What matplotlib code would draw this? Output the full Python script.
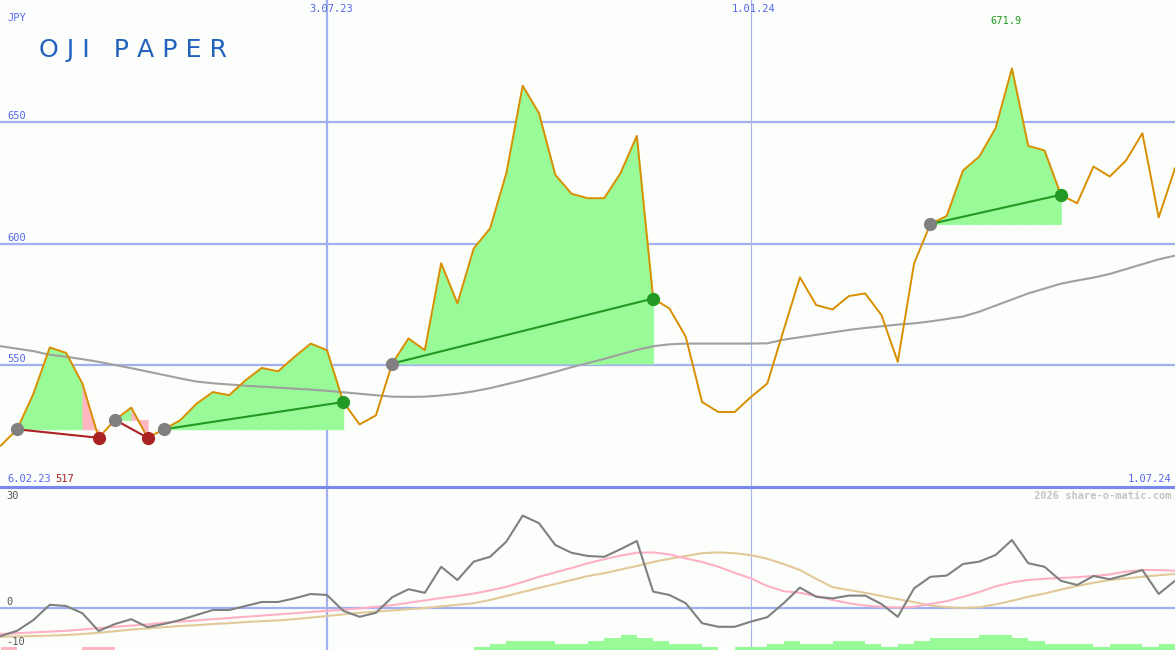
import numpy as np
import pandas as pd
import matplotlib
matplotlib.use("Agg")
import matplotlib.pyplot as plt
from matplotlib.lines import Line2D

# weekly closes, OJI Paper (JPY)
dates = pd.date_range("2023-02-13", periods=73, freq="7D")

price = [517.0, 523.7, 538.3, 557.3, 555.1, 542.5, 520.2, 527.6, 532.6, 520.2,
         523.7, 527.4, 534.2, 539.0, 537.7, 543.8, 548.9, 547.5, 553.4, 558.9,
         556.2, 534.9, 525.7, 529.4, 550.7, 561.0, 556.2, 591.9, 575.4, 598.0,
         606.2, 628.9, 664.8, 653.5, 628.2, 620.4, 618.6, 618.6, 628.9, 644.2,
         577.4, 573.3, 561.7, 534.9, 530.8, 530.8, 537.0, 542.5, 564.4, 586.1,
         574.7, 572.9, 578.4, 579.5, 570.6, 551.4, 591.8, 608.0, 611.3, 630.0,
         635.7, 647.4, 671.9, 640.1, 638.2, 620.0, 616.5, 631.6, 627.5, 634.1,
         645.3, 610.7, 630.9]

avg_line = [557.8, 556.8, 555.8, 554.3, 553.5, 552.5, 551.4, 550.1, 548.8, 547.4,
            546.0, 544.6, 543.3, 542.6, 542.1, 541.6, 541.2, 540.8, 540.4, 540.0,
            539.5, 538.9, 538.3, 537.7, 537.1, 537.0, 537.1, 537.6, 538.3, 539.3,
            540.6, 542.2, 543.8, 545.5, 547.3, 549.2, 550.9, 552.6, 554.5, 556.3,
            557.8, 558.6, 558.9, 558.9, 558.9, 558.9, 558.9, 559.0, 560.5, 561.5,
            562.5, 563.5, 564.5, 565.3, 566.0, 566.7, 567.2, 568.0, 569.0, 570.0,
            572.0, 574.5, 577.0, 579.5, 581.5, 583.5, 584.8, 586.0, 587.5, 589.5,
            591.5, 593.5, 595.0]

# entry / exit week index of each signal
trades = [(1, 6), (7, 9), (10, 21), (24, 40), (57, 65)]

# lower panel
osc = [-7.0, -5.7, -3.0, 0.8, 0.5, -1.3, -5.75, -4.0, -2.8, -4.8,
       -4.0, -3.0, -1.75, -0.5, -0.5, 0.5, 1.5, 1.5, 2.4, 3.5,
       3.25, -0.7, -2.2, -1.2, 2.7, 4.7, 3.8, 10.3, 7.0, 11.6,
       12.8, 16.6, 23.1, 21.2, 15.75, 13.8, 13.0, 12.8, 14.7, 16.75,
       4.1, 3.25, 1.2, -3.8, -4.7, -4.7, -3.4, -2.3, 1.2, 5.1,
       2.8, 2.4, 3.1, 3.1, 1.0, -2.2, 4.9, 7.8, 8.1, 11.0,
       11.6, 13.25, 17.0, 11.2, 10.3, 6.8, 5.75, 8.0, 7.2, 8.25,
       9.5, 3.5, 6.8]

osc_pink = [-6.5, -6.3, -6.1, -5.9, -5.7, -5.4, -5.0, -4.7, -4.4, -4.1,
            -3.7, -3.4, -3.1, -2.8, -2.5, -2.2, -1.9, -1.6, -1.3, -1.0,
            -0.7, -0.4, -0.1, 0.3, 0.7, 1.3, 1.9, 2.5, 3.0, 3.6,
            4.4, 5.3, 6.5, 7.8, 8.9, 10.0, 11.2, 12.2, 13.1, 13.8,
            13.9, 13.4, 12.4, 11.5, 10.3, 8.8, 7.4, 5.5, 4.2, 3.8,
            3.0, 2.0, 1.2, 0.6, 0.3, 0.1, 0.3, 1.0, 1.7, 2.8,
            4.0, 5.4, 6.4, 7.0, 7.3, 7.5, 7.7, 8.0, 8.4, 9.1,
            9.5, 9.5, 9.3]

osc_tan = [-7.2, -7.1, -7.0, -6.9, -6.75, -6.5, -6.2, -5.8, -5.4, -5.1,
           -4.8, -4.5, -4.3, -4.0, -3.8, -3.5, -3.3, -3.1, -2.8, -2.4,
           -2.0, -1.6, -1.2, -0.9, -0.6, -0.3, 0.0, 0.4, 0.8, 1.2,
           2.0, 3.0, 4.0, 5.0, 6.0, 7.0, 8.0, 8.7, 9.6, 10.5,
           11.5, 12.3, 13.0, 13.7, 13.9, 13.7, 13.2, 12.3, 11.0, 9.5,
           7.3, 5.2, 4.5, 3.8, 3.0, 2.2, 1.5, 0.6, 0.2, 0.0,
           0.2, 0.9, 1.8, 2.8, 3.6, 4.6, 5.5, 6.3, 7.0, 7.4,
           7.8, 8.2, 8.5]

hist = [-1, 0, 0, 0, 0, -1, -1, 0, 0, 0,
        0, 0, 0, 0, 0, 0, 0, 0, 0, 0,
        0, 0, 0, 0, 0, 0, 0, 0, 0, 1,
        2, 3, 3, 3, 2, 2, 3, 4, 5, 4,
        3, 2, 2, 1, 0, 1, 1, 2, 3, 2,
        2, 3, 3, 2, 1, 2, 3, 4, 4, 4,
        5, 5, 4, 3, 2, 2, 2, 1, 2, 2,
        1, 2, 2]

bg = "#fbfefb"
grid_c = "#a3b0f0"
blue_txt = "#5566ee"
green = "#98fb98"
pink = "#ffb6c1"

fig = plt.figure(figsize=(11.75, 6.5), dpi=100)
fig.patch.set_facecolor(bg)
ax = fig.add_axes([0, 163 / 650, 1, 487 / 650])
ax2 = fig.add_axes([0, 0, 1, 163 / 650])
for a in (ax, ax2):
    a.set_axis_off()
    a.set_xlim(dates[0] - pd.Timedelta(days=0.35), pd.Timestamp("2024-07-01"))
ax.set_ylim(500, 700)
ax2.set_ylim(-10.5, 30.25)

vl1 = pd.Timestamp("2023-07-03")
vl2 = pd.Timestamp("2024-01-01")

# main panel grid
for v in (550, 600, 650):
    ax.axhline(v, color=grid_c, lw=1.6, zorder=1)
ax.axvline(vl1, color=grid_c, lw=1.6, zorder=1)
ax.axvline(vl2, color="#aab4e8", lw=0.8, zorder=1)

# signal areas
for s, e in trades:
    base = price[s]
    for i in range(s, e):
        seg = price[i:i + 2]
        col = green if min(seg) >= base else pink
        ax.fill_between(dates[i:i + 2], seg, base, color=col, lw=0.6, ec=col, zorder=2)

ax.plot(dates, avg_line, color="#a0a0a0", lw=1.5, zorder=3)
ax.plot(dates, price, color="#d98e00", lw=1.4, zorder=4)

for s, e in trades:
    win = price[e] >= price[s]
    c = "#229922" if win else "#aa2222"
    ax.plot([dates[s], dates[e]], [price[s], price[e]], color=c, lw=1.5, zorder=5)
    ax.plot(dates[s], price[s], "o", color="#808080", ms=8.5, zorder=6)
    ax.plot(dates[e], price[e], "o", color=c, ms=8.5, zorder=6)

# lower panel
ax2.axhline(0, color=grid_c, lw=1.6, zorder=1)
ax2.axvline(vl1, color=grid_c, lw=1.6, zorder=1)
ax2.axvline(vl2, color="#aab4e8", lw=0.8, zorder=1)
h = np.array(hist, dtype=float)
bar_cols = [green if v > 0 else pink for v in h]
ax2.bar(dates, np.abs(h) * 0.75, width=7, bottom=-10.5, align="edge",
        color=bar_cols, lw=0, zorder=2)
ax2.plot(dates, osc_tan, color="#e2c99a", lw=1.5, zorder=3)
ax2.plot(dates, osc_pink, color="#ffb0c4", lw=1.5, zorder=3)
ax2.plot(dates, osc, color="#808080", lw=1.5, zorder=4)

fig.add_artist(Line2D([0, 1], [163 / 650, 163 / 650], color="#7888ee", lw=2.2))


def px(x, y):
    return x / 1175, 1 - y / 650


mono = "DejaVu Sans Mono"
fs = 7.5
fig.text(*px(7, 18), "JPY", color=blue_txt, fontsize=fs, family=mono, va="center")
for lab, y in (("650", 116), ("600", 238), ("550", 359)):
    fig.text(*px(7, y), lab, color=blue_txt, fontsize=fs, family=mono, va="center")
fig.text(*px(331, 9), "3.07.23", color=blue_txt, fontsize=fs, family=mono, va="center", ha="center")
fig.text(*px(754, 9), "1.01.24", color=blue_txt, fontsize=fs, family=mono, va="center", ha="center")
fig.text(*px(1006, 21), "671.9", color="#229922", fontsize=fs, family=mono, va="center", ha="center")
fig.text(*px(7, 479), "6.02.23", color=blue_txt, fontsize=fs, family=mono, va="center")
fig.text(*px(55, 479), "517", color="#aa2222", fontsize=fs, family=mono, va="center")
fig.text(*px(1171, 479), "1.07.24", color=blue_txt, fontsize=fs, family=mono, va="center", ha="right")
fig.text(*px(1172, 496), "2026 share-o-matic.com", color="#c4c4c4", fontsize=fs,
         family=mono, va="center", ha="right", weight="bold")
for lab, y in (("30", 496), ("0", 602), ("-10", 642)):
    fig.text(*px(6, y), lab, color="#555555", fontsize=fs, family=mono, va="center")

fig.text(*px(39, 50), "O J I   P A P E R", color="#2262be", fontsize=18.2,
         family="DejaVu Sans", va="center")

fig.savefig("out.png", dpi=100, facecolor=bg)
